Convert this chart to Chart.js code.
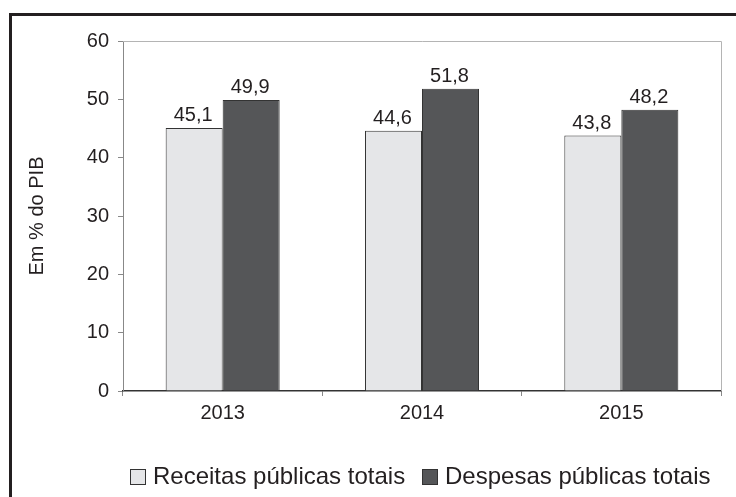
<!DOCTYPE html>
<html>
<head>
<meta charset="utf-8">
<script src="https://cdn.jsdelivr.net/npm/chart.js@4"></script>
<style>
  html, body { margin: 0; padding: 0; background: #fff; }
  #wrap { position: relative; width: 736px; height: 497px; overflow: hidden; }
  #frame { position: absolute; left: 9px; top: 13px; right: -10px; bottom: -10px;
           border-top: 3px solid #231f20; border-left: 3px solid #231f20; }
  #chart { position: absolute; left: 0; top: 0; }
</style>
</head>
<body>
<div id="wrap">
  <div id="frame"></div>
  <canvas id="chart" width="736" height="497"></canvas>
</div>
<script>
/* ── data ── */
const years = ['2013', '2014', '2015'];
const receitas = [45.1, 44.6, 43.8];
const despesas = [49.9, 51.8, 48.2];
const seriesNames = ['Receitas públicas totais', 'Despesas públicas totais'];
const yTicksMax = 60;
const yTicksStep = 10;

const FONT = '"Liberation Sans", Arial, sans-serif';
const INK = '#231f20';
const LIGHT = '#e5e6e8';
const DARK = '#555658';

/* ── plugins ── */
const plotBorder = {
  id: 'plotBorder',
  beforeDatasetsDraw(chart) {
    const { ctx, chartArea: a } = chart;
    ctx.save();
    ctx.strokeStyle = '#b4b4b4';
    ctx.lineWidth = 1;
    ctx.beginPath();
    ctx.moveTo(a.left, a.top + 0.5);
    ctx.lineTo(a.right + 0.5, a.top + 0.5);
    ctx.lineTo(a.right + 0.5, a.bottom);
    ctx.stroke();
    ctx.restore();
  }
};

const valueLabels = {
  id: 'valueLabels',
  afterDatasetsDraw(chart) {
    const { ctx } = chart;
    ctx.save();
    ctx.font = '20px ' + FONT;
    ctx.fillStyle = INK;
    ctx.textAlign = 'center';
    ctx.textBaseline = 'alphabetic';
    chart.data.datasets.forEach((ds, i) => {
      chart.getDatasetMeta(i).data.forEach((bar, j) => {
        ctx.fillText(String(ds.data[j]).replace('.', ','), bar.x - 1, bar.y - 7);
      });
    });
    ctx.restore();
  }
};

const legendRow = {
  id: 'legendRow',
  afterDraw(chart) {
    const { ctx } = chart;
    const spots = [130, 422];
    ctx.save();
    ctx.font = '24px ' + FONT;
    ctx.textBaseline = 'middle';
    chart.data.datasets.forEach((ds, i) => {
      const x = spots[i];
      ctx.fillStyle = ds.backgroundColor;
      ctx.fillRect(x, 469, 15, 15);
      ctx.strokeStyle = '#333';
      ctx.lineWidth = 1;
      ctx.strokeRect(x + 0.5, 469.5, 15, 15);
      ctx.fillStyle = INK;
      ctx.fillText(ds.label, x + 23, 477);
    });
    ctx.restore();
  }
};

/* ── chart ── */
new Chart(document.getElementById('chart'), {
  type: 'bar',
  data: {
    labels: years,
    datasets: [
      { label: seriesNames[0], data: receitas, backgroundColor: LIGHT,
        borderColor: '#333', borderWidth: 1 },
      { label: seriesNames[1], data: despesas, backgroundColor: DARK,
        borderColor: '#333', borderWidth: 1 }
    ]
  },
  options: {
    responsive: false,
    animation: false,
    layout: { padding: { left: 0, top: 41, right: 15, bottom: 0 } },
    datasets: { bar: { categoryPercentage: 0.572, barPercentage: 1.0 } },
    plugins: { legend: { display: false }, tooltip: { enabled: false } },
    scales: {
      x: {
        afterFit(s) { s.height = 106; },
        grid: { drawOnChartArea: false, drawTicks: true, tickLength: 5, color: '#888', offset: true },
        border: { display: true, color: '#333', width: 1.5 },
        ticks: { color: INK, font: { family: FONT, size: 20 }, padding: 5 }
      },
      y: {
        min: 0,
        max: yTicksMax,
        afterFit(s) { s.width = 123; },
        grid: { drawOnChartArea: false, drawTicks: true, tickLength: 5, color: '#888' },
        border: { display: true, color: '#888', width: 1 },
        ticks: { stepSize: yTicksStep, color: INK, font: { family: FONT, size: 20 }, padding: 9 },
        title: { display: true, text: 'Em % do PIB', color: INK,
                 font: { family: FONT, size: 20 }, padding: { top: 25, bottom: 0 } }
      }
    }
  },
  plugins: [plotBorder, valueLabels, legendRow]
});
</script>
</body>
</html>
